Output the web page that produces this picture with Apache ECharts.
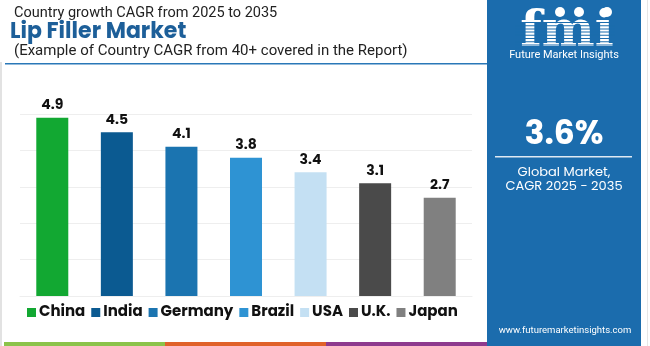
<!DOCTYPE html>
<html><head><meta charset="utf-8">
<script src="https://cdn.jsdelivr.net/npm/echarts@6/dist/echarts.min.js"></script>
<style>html,body{margin:0;padding:0;background:#fff}#c{width:650px;height:346px}</style>
</head><body><div id="c"></div>
<script>
var categories = ['China','India','Germany','Brazil','USA','U.K.','Japan'];
var values = [4.9, 4.5, 4.1, 3.8, 3.4, 3.1, 2.7];
var colors = ['#12a832','#0b5a91','#1b74b0','#2e93d3','#c4e0f3','#4a4a4a','#808080'];
var yTicks = [0, 1, 2, 3, 4, 5];
var titleLine1 = 'Country growth CAGR from 2025 to 2035';
var titleLine2 = 'Lip Filler Market';
var titleLine3 = '(Example of Country CAGR from 40+ covered in the Report)';
var globalCagr = '3.6%';

var FONT = 'Poppins, Inter, "Open Sans", sans-serif';
var NARROW = 'Roboto, "Liberation Sans", sans-serif';
var chart = echarts.init(document.getElementById('c'));
var series = categories.map(function (name, i) {
  return {
    name: name, type: 'bar', stack: 'all', barWidth: 32,
    itemStyle: { color: colors[i] },
    label: { show: true, position: 'top', distance: 5, color: '#111', fontWeight: 'bold', fontSize: 14, fontFamily: FONT,
      formatter: function (p) { return p.value.toFixed(1); } },
    data: categories.map(function (c, j) { return j === i ? values[i] : '-'; })
  };
});
var panel = '#1b6cad';
var graphic = [
  { type: 'rect', shape: { x: 0, y: 62, width: 2, height: 284 }, style: { fill: '#e2e2e2' } },
  { type: 'rect', shape: { x: 5, y: 63, width: 482, height: 1.5 }, style: { fill: '#2a78b8' } },
  { type: 'text', left: 14, top: 6, style: { text: titleLine1, font: '14.5px ' + NARROW, fill: '#222' } },
  { type: 'text', left: 10, top: 21, style: { text: titleLine2, font: 'bold 22px ' + FONT, fill: '#1d5f99' } },
  { type: 'text', left: 14, top: 44, style: { text: titleLine3, font: '15px ' + NARROW, fill: '#222' } },
  { type: 'rect', shape: { x: 4, y: 342, width: 161, height: 4 }, style: { fill: '#8bc34a' } },
  { type: 'rect', shape: { x: 165, y: 342, width: 161, height: 4 }, style: { fill: '#e0622a' } },
  { type: 'rect', shape: { x: 326, y: 342, width: 161, height: 4 }, style: { fill: '#8e3a8e' } },
  { type: 'rect', shape: { x: 487, y: 0, width: 154, height: 346 }, style: { fill: panel } },
  { type: 'rect', shape: { x: 647, y: 0, width: 1, height: 346 }, style: { fill: '#e6e6e6' } },
  { type: 'text', x: 567, y: 8, style: { text: 'fmi', font: 'bold 50px "DejaVu Serif", serif', fill: '#fff', textAlign: 'center' } },
  { type: 'circle', shape: { cx: 560, cy: 12, r: 5 }, style: { fill: '#fff' } },
  { type: 'circle', shape: { cx: 579, cy: 12, r: 5 }, style: { fill: '#fff' } },
  { type: 'circle', shape: { cx: 607, cy: 12, r: 5 }, style: { fill: '#fff' } },
  { type: 'text', x: 564, y: 50, style: { text: 'Future Market Insights', font: '11px ' + NARROW, fill: '#fff', textAlign: 'center' } },
  { type: 'text', x: 564, y: 119, style: { text: globalCagr, font: 'bold 33px ' + FONT, fill: '#fff', textAlign: 'center' } },
  { type: 'rect', shape: { x: 495, y: 156, width: 137, height: 1.5 }, style: { fill: '#dfe9f3' } },
  { type: 'text', x: 564, y: 166, style: { text: 'Global Market,\nCAGR 2025 - 2035', font: '13px ' + FONT, fill: '#fff', textAlign: 'center', lineHeight: 14 } },
  { type: 'text', x: 565, y: 326, style: { text: 'www.futuremarketinsights.com', font: '9.5px ' + NARROW, fill: '#fff', textAlign: 'center' } }
];
for (var k = 0; k < 9; k++) {
  graphic.push({ type: 'rect', shape: { x: 515, y: 22 + k * 3.2, width: 100, height: 1 }, style: { fill: panel }, z: 200 });
}
chart.setOption({
  animation: false,
  textStyle: { fontFamily: FONT },
  grid: { left: 20, right: 178, top: 114, bottom: 50, containLabel: false },
  legend: {
    data: categories, left: 22, top: 300, itemWidth: 9, itemHeight: 9, itemGap: 6, icon: 'rect',
    textStyle: { fontSize: 15, fontWeight: 'bold', color: '#111', fontFamily: FONT, padding: [0, 0, 0, -2] }
  },
  xAxis: { type: 'category', data: categories, axisLine: { show: true, lineStyle: { color: '#eee' } }, axisTick: { show: false }, axisLabel: { show: false } },
  yAxis: { type: 'value', min: yTicks[0], max: yTicks[yTicks.length - 1], interval: 1, axisLabel: { show: false },
    splitLine: { lineStyle: { color: '#eeeeee' } }, axisLine: { show: false } },
  series: series,
  graphic: graphic
});
</script></body></html>
